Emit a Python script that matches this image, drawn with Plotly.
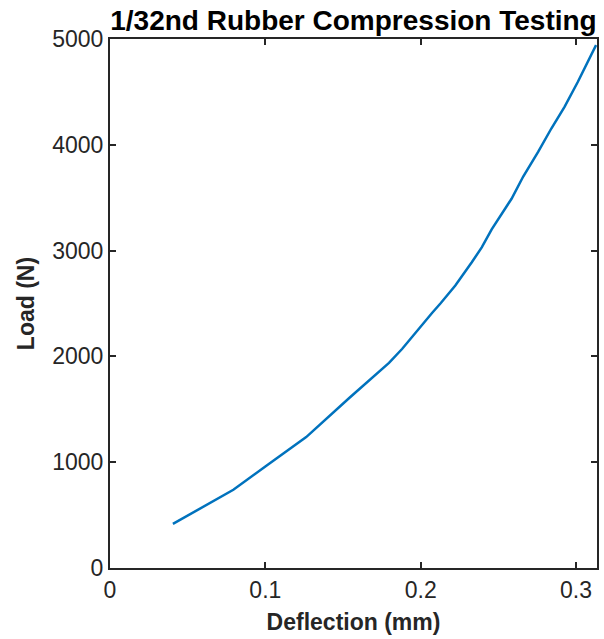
import plotly.graph_objects as go

deflection_mm = [0.0405, 0.06, 0.0794, 0.10, 0.1263, 0.154, 0.1796, 0.188, 0.1988, 0.2073,
                 0.2127, 0.2223, 0.2329, 0.2393, 0.2457, 0.2521, 0.2585, 0.266, 0.2713,
                 0.2756, 0.2841, 0.2926, 0.3012, 0.3129]
load_n = [417, 580, 739, 960, 1237, 1607, 1938, 2070, 2265, 2410,
          2500, 2670, 2890, 3030, 3200, 3350, 3490, 3700, 3823,
          3933, 4154, 4359, 4596, 4943]
x_ticks = [0, 0.1, 0.2, 0.3]
x_tick_labels = ["0", "0.1", "0.2", "0.3"]
y_ticks = [0, 1000, 2000, 3000, 4000, 5000]

font = "Liberation Sans, Arial, Helvetica, sans-serif"
axc = "#262626"

fig = go.Figure(go.Scatter(x=deflection_mm, y=load_n, mode="lines",
                           line=dict(color="#0072BD", width=2.5)))

fig.update_layout(
    width=604, height=639,
    margin=dict(l=110, r=5, t=39, b=71),
    paper_bgcolor="white", plot_bgcolor="white",
    showlegend=False,
    font=dict(family=font, color=axc),
    title=dict(text="<b>1/32nd Rubber Compression Testing</b>",
               x=0.5, xref="paper", xanchor="center",
               y=1, yref="paper", yanchor="bottom",
               pad=dict(b=9),
               font=dict(family=font, size=28, color="black")),
)
common = dict(showgrid=False, zeroline=False, showline=True, linecolor=axc, linewidth=2,
              mirror="ticks", ticks="inside", ticklen=6, tickwidth=2, tickcolor=axc,
              tickfont=dict(family=font, size=23, color=axc))
fig.update_xaxes(range=[0, 0.3135], tickvals=x_ticks, ticktext=x_tick_labels,
                 title=dict(text="<b>Deflection (mm)</b>", font=dict(family=font, size=23, color=axc),
                            standoff=12), **common)
fig.update_yaxes(range=[0, 5000], tickvals=y_ticks,
                 title=dict(text="<b>Load (N)</b>", font=dict(family=font, size=23, color=axc),
                            standoff=11), **common)

fig.write_html("out.html")
